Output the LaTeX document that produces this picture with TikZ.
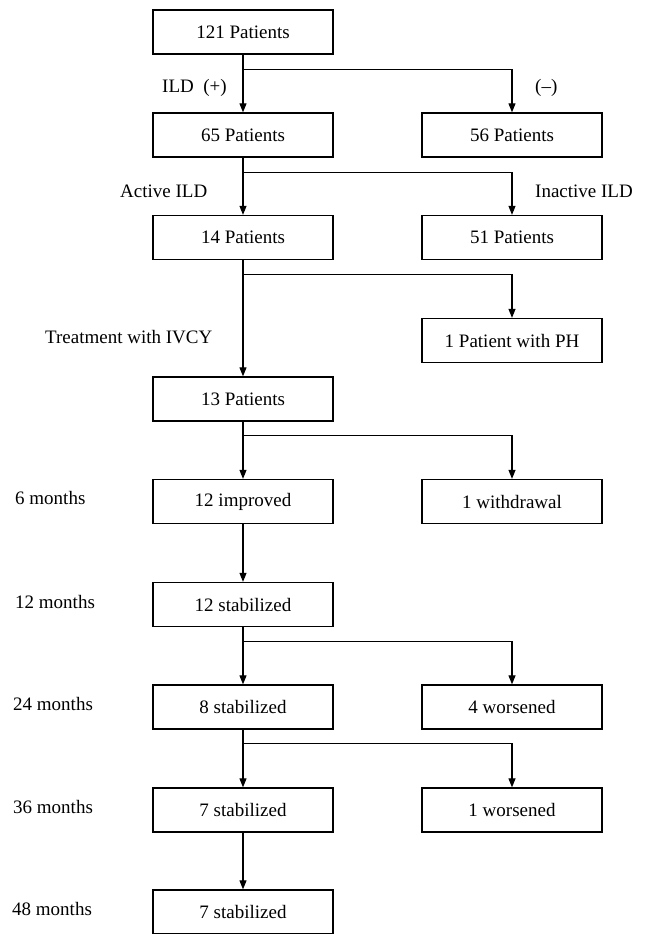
\documentclass[tikz,border=0pt]{standalone}
\usepackage{fontspec}
\setmainfont{Liberation Serif}
\usepackage{tikz}
\usetikzlibrary{arrows.meta}

\begin{document}
\begin{tikzpicture}[x=1pt, y=-1pt,
    box/.style={draw, line width=1.3pt, minimum width=180pt, minimum height=44pt, inner sep=0pt, font=\fontsize{19}{22}\selectfont},
    lbl/.style={anchor=west, inner sep=0pt, font=\fontsize{19}{22}\selectfont},
    >={Triangle[length=9pt, width=7pt]}]
    \useasboundingbox (0,0) rectangle (645,934);

    % left column at x=243, right column at x=512
    \node[box] (n121) at (243,32) {121 Patients};
    \node[box] (n65) at (243,135) {65 Patients};
    \node[box] (n56) at (512,135) {56 Patients};
    \node[box] (n14) at (243,237.5) {14 Patients};
    \node[box] (n51) at (512,237.5) {51 Patients};
    \node[box] (nph) at (512,340.5) {1 Patient with PH};
    \node[box] (n13) at (243,399) {13 Patients};
    \node[box] (imp12) at (243,501.5) {12 improved};
    \node[box] (wd1) at (512,501.5) {1 withdrawal};
    \node[box] (stab12) at (243,604.5) {12 stabilized};
    \node[box] (stab8) at (243,707) {8 stabilized};
    \node[box] (wors4) at (512,707) {4 worsened};
    \node[box] (stab7) at (243,810) {7 stabilized};
    \node[box] (wors1) at (512,810) {1 worsened};
    \node[box] (stab7b) at (243,912) {7 stabilized};

    % branch labels
    \node[lbl] (ildpos) at (162,88) {ILD~~(+)};
    \node[lbl] (ildneg) at (535,88) {(--)};
    \node[lbl] (act) at (120,191) {Active ILD};
    \node[lbl] (inact) at (535,191) {Inactive ILD};
    \node[lbl] (ivcy) at (45,337) {Treatment with IVCY};

    % time points
    \node[lbl] (m6) at (15,498) {6 months};
    \node[lbl] (m12) at (15,602) {12 months};
    \node[lbl] (m24) at (13,704) {24 months};
    \node[lbl] (m36) at (13,807) {36 months};
    \node[lbl] (m48) at (12,909) {48 months};

    \begin{scope}[line width=1.1pt]
        \draw[->] (n121) -- (n65);
        \draw[->] (n121.south) ++(0,15) -| (n56.north);
        \draw[->] (n65) -- (n14);
        \draw[->] (n65.south) ++(0,15) -| (n51.north);
        \draw[->] (n14) -- (n13);
        \draw[->] (n14.south) ++(0,14) -| (nph.north);
        \draw[->] (n13) -- (imp12);
        \draw[->] (n13.south) ++(0,14) -| (wd1.north);
        \draw[->] (imp12) -- (stab12);
        \draw[->] (stab12) -- (stab8);
        \draw[->] (stab12.south) ++(0,14) -| (wors4.north);
        \draw[->] (stab8) -- (stab7);
        \draw[->] (stab8.south) ++(0,14) -| (wors1.north);
        \draw[->] (stab7) -- (stab7b);
    \end{scope}
\end{tikzpicture}
\end{document}
